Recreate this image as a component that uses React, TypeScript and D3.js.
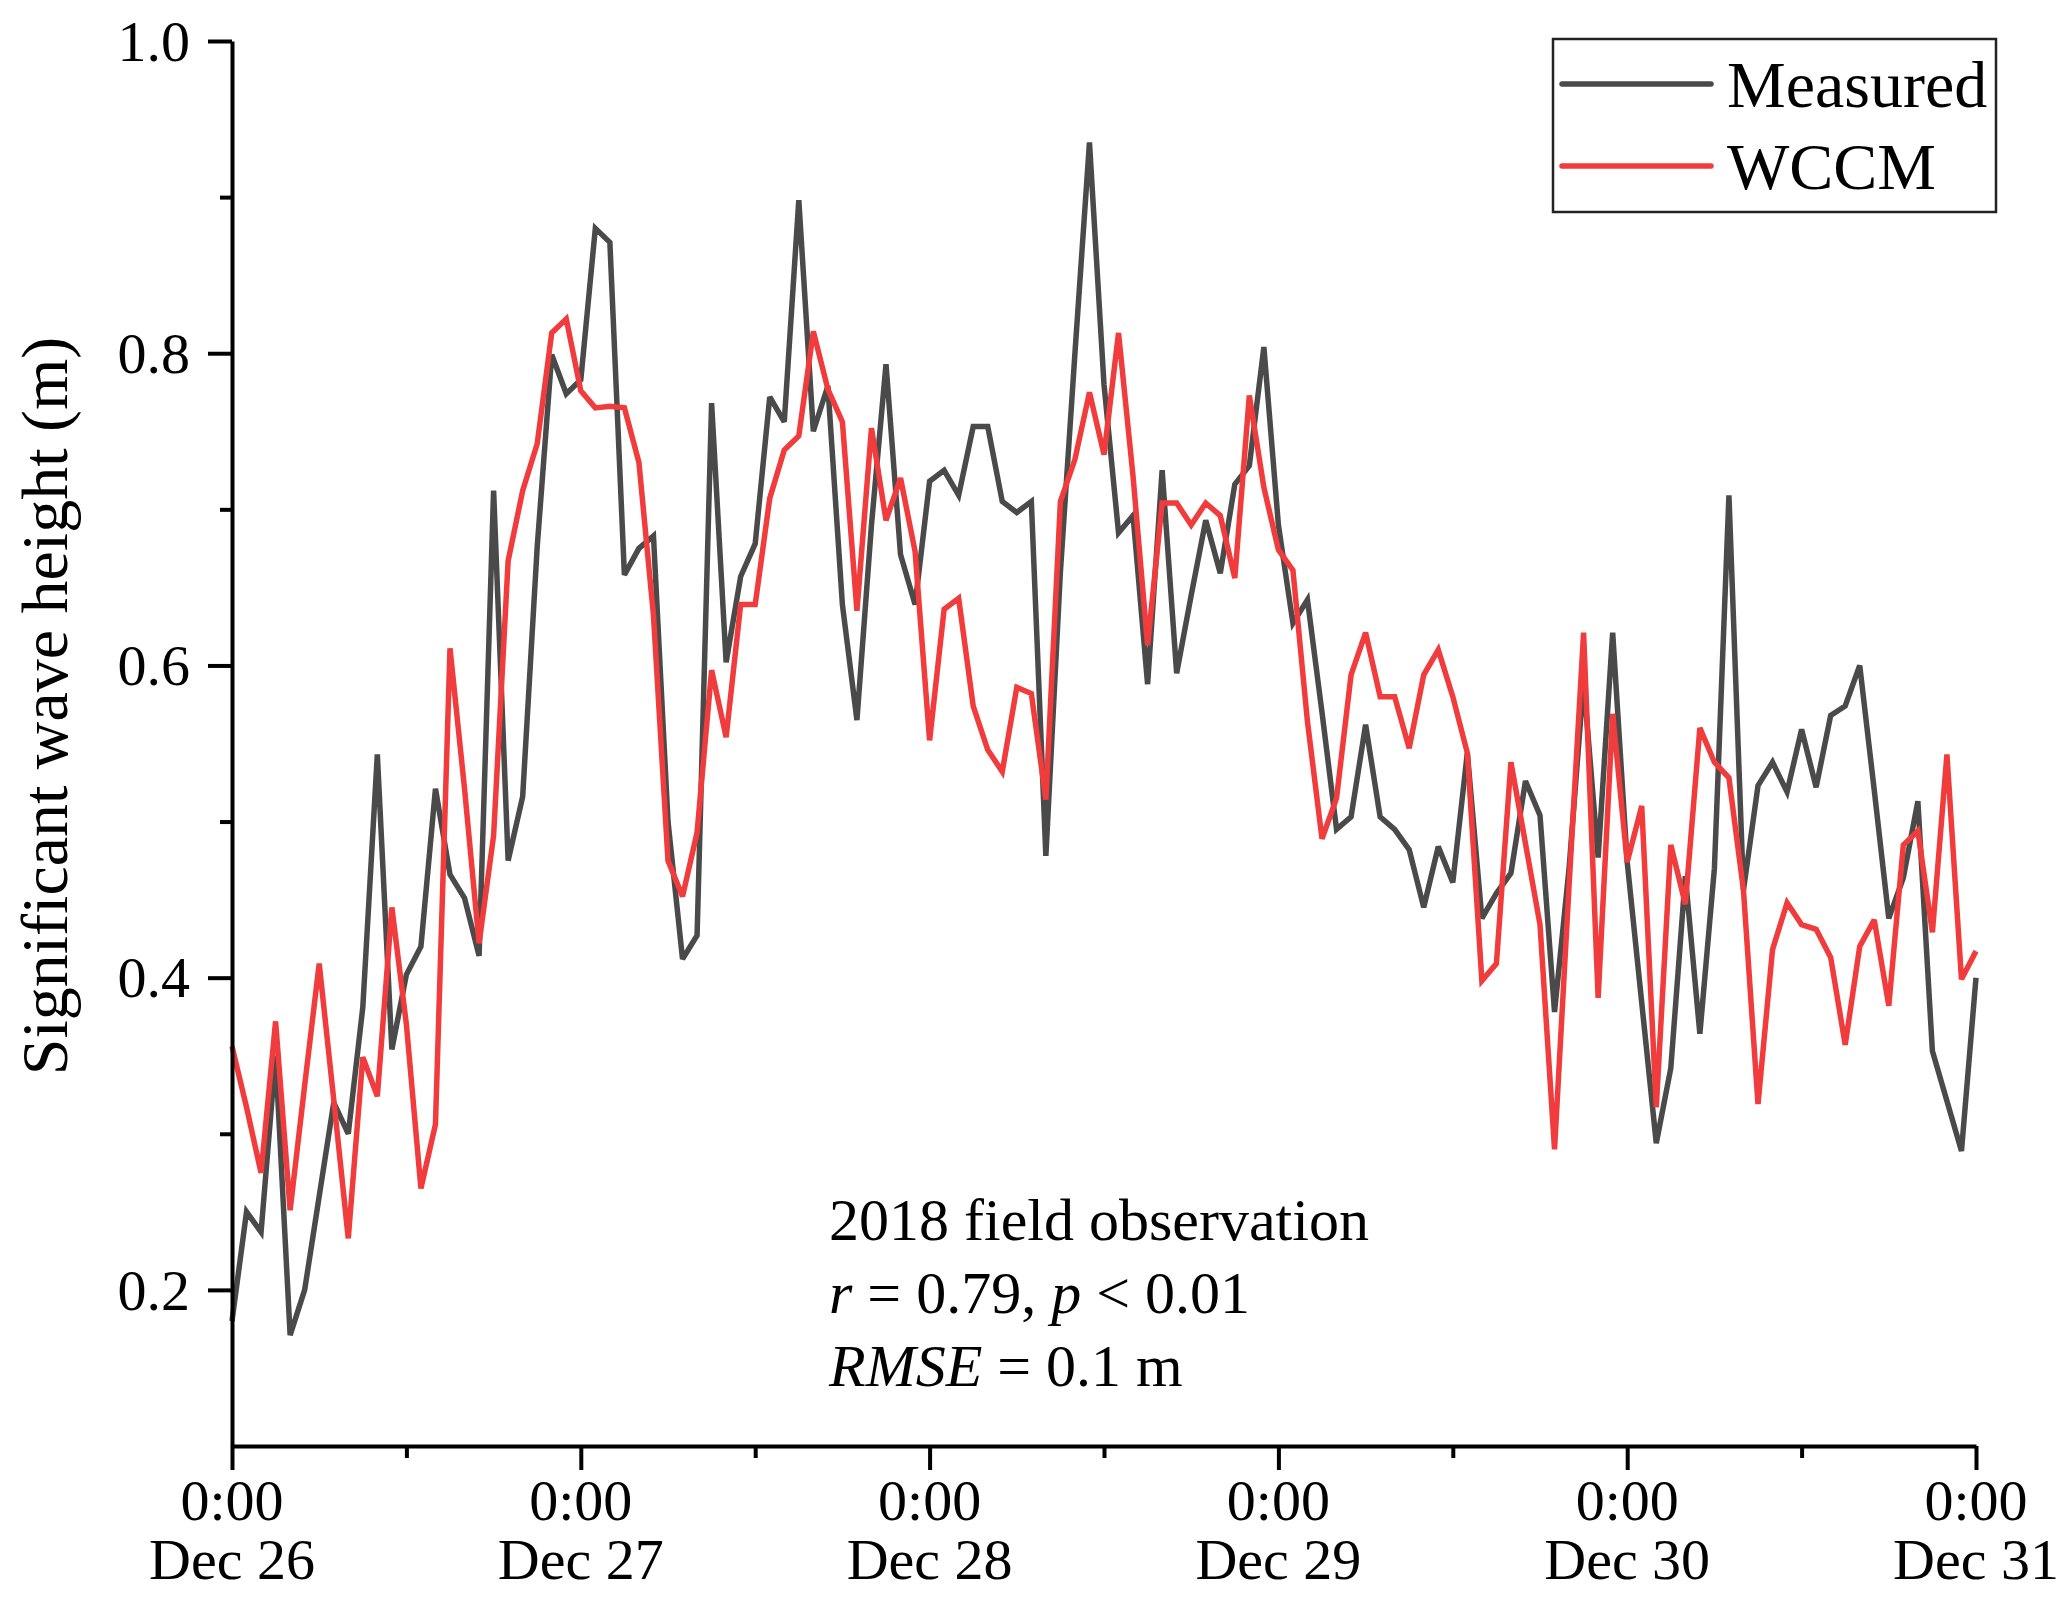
import { useEffect, useRef } from 'react';
import * as d3 from 'd3';

// hourly samples, Dec 26 0:00 -> Dec 31 0:00 (121 points)
const measured = [
  0.18, 0.25, 0.237, 0.35, 0.171, 0.2, 0.26, 0.32, 0.3, 0.381, 0.543, 0.354,
  0.402, 0.42, 0.521, 0.466, 0.451, 0.414, 0.712, 0.475, 0.516, 0.676, 0.799, 0.774,
  0.783, 0.88, 0.871, 0.658, 0.675, 0.683, 0.5, 0.412, 0.427, 0.768, 0.602, 0.657,
  0.678, 0.772, 0.756, 0.898, 0.75, 0.779, 0.639, 0.565, 0.69, 0.793, 0.671, 0.639,
  0.718, 0.725, 0.709, 0.753, 0.753, 0.705, 0.698, 0.705, 0.478, 0.66, 0.8, 0.935,
  0.78, 0.685, 0.696, 0.588, 0.725, 0.595, 0.645, 0.693, 0.659, 0.716, 0.728, 0.804,
  0.69, 0.627, 0.642, 0.57, 0.495, 0.503, 0.562, 0.503, 0.495, 0.482, 0.445, 0.484,
  0.461, 0.544, 0.438, 0.454, 0.467, 0.526, 0.504, 0.378, 0.47, 0.59, 0.477, 0.621,
  0.474, 0.384, 0.294, 0.342, 0.465, 0.364, 0.47, 0.709, 0.456, 0.523, 0.538, 0.519,
  0.559, 0.522, 0.568, 0.574, 0.6, 0.52, 0.438, 0.464, 0.513, 0.353, 0.321, 0.289,
  0.4
];

const wccm = [
  0.356, 0.317, 0.275, 0.372, 0.251, 0.331, 0.409, 0.322, 0.233, 0.349, 0.324, 0.445,
  0.37, 0.265, 0.306, 0.611, 0.521, 0.422, 0.491, 0.667, 0.712, 0.742, 0.813, 0.822,
  0.776, 0.765, 0.766, 0.765, 0.73, 0.632, 0.475, 0.452, 0.493, 0.597, 0.554, 0.639,
  0.639, 0.707, 0.738, 0.747, 0.814, 0.777, 0.756, 0.635, 0.752, 0.693, 0.72, 0.673,
  0.552, 0.636, 0.643, 0.574, 0.546, 0.532, 0.586, 0.582, 0.514, 0.705, 0.732, 0.775,
  0.735, 0.813, 0.721, 0.613, 0.704, 0.704, 0.69, 0.704, 0.696, 0.656, 0.773, 0.714,
  0.674, 0.661, 0.564, 0.489, 0.515, 0.594, 0.621, 0.58, 0.58, 0.547, 0.594, 0.61,
  0.58, 0.544, 0.398, 0.409, 0.538, 0.486, 0.434, 0.29, 0.459, 0.621, 0.387, 0.569,
  0.474, 0.51, 0.317, 0.485, 0.447, 0.56, 0.538, 0.528, 0.456, 0.319, 0.418, 0.448,
  0.434, 0.431, 0.413, 0.357, 0.42, 0.437, 0.382, 0.485, 0.494, 0.429, 0.543, 0.399,
  0.417
];

const startTime = new Date(2018, 11, 26, 0, 0);
const endTime = new Date(2018, 11, 31, 0, 0);
const dayLabels = ['Dec 26', 'Dec 27', 'Dec 28', 'Dec 29', 'Dec 30', 'Dec 31'];
const yMajor = [0.2, 0.4, 0.6, 0.8, 1.0];
const yMinor = [0.3, 0.5, 0.7, 0.9];

const seriesList = [
  { name: 'Measured', values: measured, color: '#4a4a4a' },
  { name: 'WCCM', values: wccm, color: '#f03c3c' }
];

const FONT = "'Liberation Serif', 'Times New Roman', serif";

export default function App() {
  const svgRef = useRef<SVGSVGElement>(null);

  useEffect(() => {
    const width = 2067;
    const height = 1600;
    const svg = d3.select(svgRef.current);
    svg.selectAll('*').remove();
    svg.attr('width', width).attr('height', height);

    const x = d3.scaleTime().domain([startTime, endTime]).range([232, 1976]);
    const y = d3.scaleLinear().domain([0.1, 1.0]).range([1446, 41]);
    const bottom = y(0.1);
    const left = x(startTime);

    const timeAt = (i: number) => d3.timeHour.offset(startTime, i);

    // lines
    const line = d3.line<number>()
      .x((_, i) => x(timeAt(i)))
      .y(d => y(d));

    seriesList.forEach(s => {
      svg.append('path')
        .datum(s.values)
        .attr('fill', 'none')
        .attr('stroke', s.color)
        .attr('stroke-width', 5.5)
        .attr('stroke-linejoin', 'miter')
        .attr('stroke-miterlimit', 3)
        .attr('d', line);
    });

    // x axis
    const dayTicks = d3.timeDay.range(startTime, d3.timeDay.offset(endTime, 1));
    const halfTicks = dayTicks.slice(0, -1).map(d => d3.timeHour.offset(d, 12));

    const xAxis = svg.append('g')
      .attr('transform', `translate(0,${bottom})`)
      .call(d3.axisBottom(x).tickValues(dayTicks).tickSize(24).tickSizeOuter(0).tickFormat(() => ''));
    xAxis.select('.domain').attr('stroke', '#000').attr('stroke-width', 4);
    xAxis.selectAll('.tick line').attr('stroke', '#000').attr('stroke-width', 4);

    const xMinor = svg.append('g')
      .attr('transform', `translate(0,${bottom})`)
      .call(d3.axisBottom(x).tickValues(halfTicks).tickSize(12).tickFormat(() => ''));
    xMinor.select('.domain').remove();
    xMinor.selectAll('.tick line').attr('stroke', '#000').attr('stroke-width', 4);

    dayTicks.forEach((d, i) => {
      const t = svg.append('text')
        .attr('font-family', FONT)
        .attr('font-size', 58)
        .attr('text-anchor', 'middle')
        .attr('fill', '#000');
      t.append('tspan').attr('x', x(d)).attr('y', bottom + 74).text('0:00');
      t.append('tspan').attr('x', x(d)).attr('y', bottom + 133).text(dayLabels[i]);
    });

    // y axis
    const yAxis = svg.append('g')
      .attr('transform', `translate(${left},0)`)
      .call(d3.axisLeft(y).tickValues(yMajor).tickSize(24).tickSizeOuter(0).tickFormat(d3.format('.1f') as any));
    yAxis.select('.domain').attr('stroke', '#000').attr('stroke-width', 4);
    yAxis.selectAll('.tick line').attr('stroke', '#000').attr('stroke-width', 4);
    yAxis.selectAll('.tick text')
      .attr('font-family', FONT)
      .attr('font-size', 58)
      .attr('fill', '#000')
      .attr('x', -42)
      .attr('dy', '0.33em');

    const yMinorAxis = svg.append('g')
      .attr('transform', `translate(${left},0)`)
      .call(d3.axisLeft(y).tickValues(yMinor).tickSize(12).tickFormat(() => ''));
    yMinorAxis.select('.domain').remove();
    yMinorAxis.selectAll('.tick line').attr('stroke', '#000').attr('stroke-width', 4);

    // y label
    svg.append('text')
      .attr('transform', `translate(67,706) rotate(-90)`)
      .attr('text-anchor', 'middle')
      .attr('font-family', FONT)
      .attr('font-size', 66)
      .attr('fill', '#000')
      .text('Significant wave height (m)');

    // legend
    const lg = svg.append('g');
    lg.append('rect')
      .attr('x', 1553).attr('y', 39)
      .attr('width', 443).attr('height', 173)
      .attr('fill', '#fff')
      .attr('stroke', '#222')
      .attr('stroke-width', 2.5);
    seriesList.forEach((s, i) => {
      const ly = 84 + i * 82;
      lg.append('line')
        .attr('x1', 1562).attr('x2', 1711)
        .attr('y1', ly).attr('y2', ly)
        .attr('stroke', s.color)
        .attr('stroke-width', 5.5)
        .attr('stroke-linecap', 'round');
      lg.append('text')
        .attr('x', 1727).attr('y', ly + 23)
        .attr('font-family', FONT)
        .attr('font-size', 66)
        .attr('fill', '#000')
        .text(s.name);
    });

    // annotation
    const ann = svg.append('g')
      .attr('font-family', FONT)
      .attr('font-size', 60)
      .attr('fill', '#000');
    ann.append('text').attr('x', 829).attr('y', 1240).text('2018 field observation');
    const l2 = ann.append('text').attr('x', 829).attr('y', 1313);
    l2.append('tspan').attr('font-style', 'italic').text('r');
    l2.append('tspan').text(' = 0.79, ');
    l2.append('tspan').attr('font-style', 'italic').text('p');
    l2.append('tspan').text(' < 0.01');
    const l3 = ann.append('text').attr('x', 829).attr('y', 1386);
    l3.append('tspan').attr('font-style', 'italic').text('RMSE');
    l3.append('tspan').text(' = 0.1 m');
  }, []);

  return (
    <svg ref={svgRef} style={{ position: 'absolute', left: 0, top: 0, background: '#fff' }}></svg>
  );
}
